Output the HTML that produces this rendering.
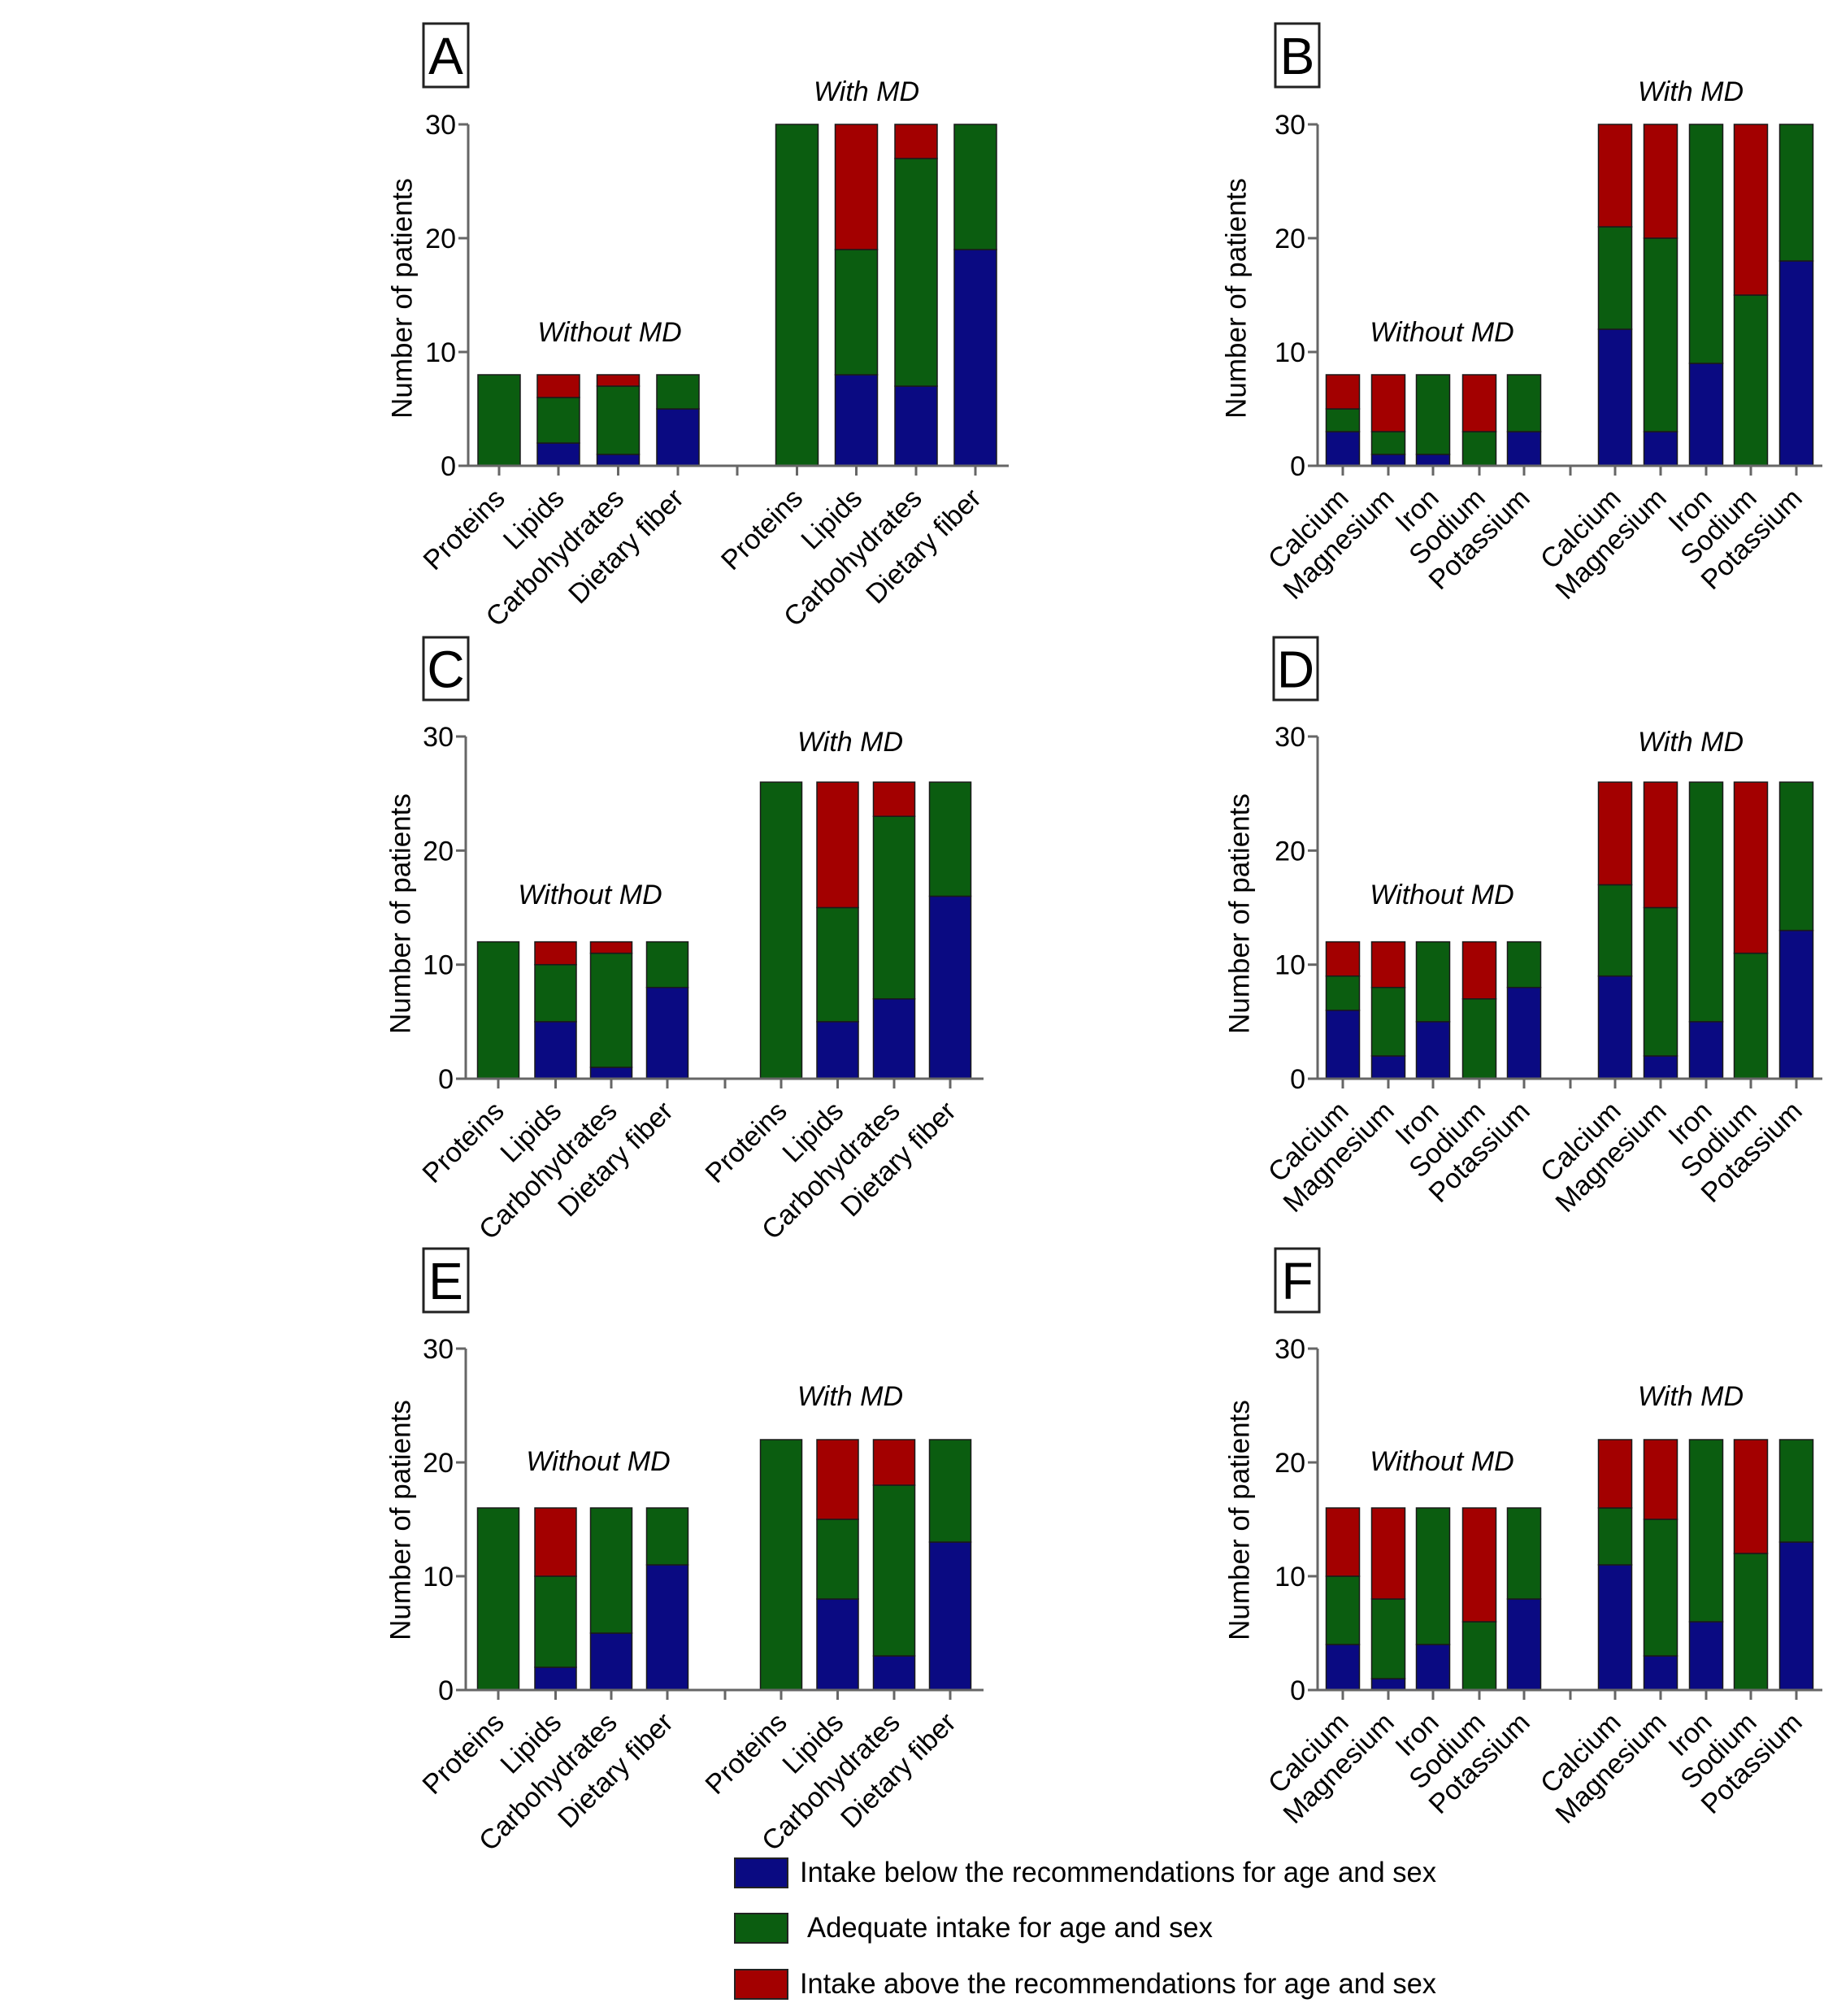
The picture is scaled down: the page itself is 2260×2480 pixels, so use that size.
<!DOCTYPE html>
<html><head><meta charset="utf-8"><style>
html,body{margin:0;padding:0;background:#fff}
svg{display:block;font-family:"Liberation Sans",Arial,sans-serif}
</style></head><body>
<svg id="fig" width="2260" height="2480" viewBox="0 0 2260 2480" xmlns="http://www.w3.org/2000/svg"></svg>
<script>
// ---- data ----
const macroCats = ["Proteins","Lipids","Carbohydrates","Dietary fiber"];
const mineralCats = ["Calcium","Magnesium","Iron","Sodium","Potassium"];
const yTicks = [0,10,20,30];
// Panel A
const aBelow = [0,2,1,5, 0,8,7,19];
const aAdequate = [8,4,6,3, 30,11,20,11];
const aAbove = [0,2,1,0, 0,11,3,0];
// Panel B
const bBelow = [3,1,1,0,3, 12,3,9,0,18];
const bAdequate = [2,2,7,3,5, 9,17,21,15,12];
const bAbove = [3,5,0,5,0, 9,10,0,15,0];
// Panel C
const cBelow = [0,5,1,8, 0,5,7,16];
const cAdequate = [12,5,10,4, 26,10,16,10];
const cAbove = [0,2,1,0, 0,11,3,0];
// Panel D
const dBelow = [6,2,5,0,8, 9,2,5,0,13];
const dAdequate = [3,6,7,7,4, 8,13,21,11,13];
const dAbove = [3,4,0,5,0, 9,11,0,15,0];
// Panel E
const eBelow = [0,2,5,11, 0,8,3,13];
const eAdequate = [16,8,11,5, 22,7,15,9];
const eAbove = [0,6,0,0, 0,7,4,0];
// Panel F
const fBelow = [4,1,4,0,8, 11,3,6,0,13];
const fAdequate = [6,7,12,6,8, 5,12,16,12,9];
const fAbove = [6,8,0,10,0, 6,7,0,10,0];

const COLORS = ["#0a0a82","#0b5d10","#a30000"];
const NS = "http://www.w3.org/2000/svg";
const svg = document.getElementById("fig");
function mk(tag, attrs, parent, text){
  const e = document.createElementNS(NS, tag);
  for (const k in attrs) e.setAttribute(k, attrs[k]);
  if (text !== undefined) e.textContent = text;
  (parent||svg).appendChild(e);
  return e;
}

const panels = [
  {id:"a", letter:"A", cats:macroCats, below:aBelow, adequate:aAdequate, above:aAbove,
   ax:576, axEnd:1241, y30:153, y0:573, xs:[614,687,760.5,834,980.5,1053.5,1127,1200], mid:907, bw:52,
   box:[521,29,55,78], withX:1066, withY:124, woX:750, woY:420, titleX:495, titleY:367},
  {id:"b", letter:"B", cats:mineralCats, below:bBelow, adequate:bAdequate, above:bAbove,
   ax:1621, axEnd:2242, y30:153, y0:573, xs:[1652,1708,1763,1820,1875,1987,2043,2099,2154,2210], mid:1932, bw:41,
   box:[1569,29,54,78], withX:2080, withY:124, woX:1774, woY:420, titleX:1521, titleY:367},
  {id:"c", letter:"C", cats:macroCats, below:cBelow, adequate:cAdequate, above:cAbove,
   ax:573, axEnd:1210, y30:906, y0:1327, xs:[613,683.5,752,821,961,1030.5,1100,1169], mid:892, bw:51,
   box:[521,784,55,77], withX:1046, withY:924, woX:726, woY:1112, titleX:493, titleY:1124},
  {id:"d", letter:"D", cats:mineralCats, below:dBelow, adequate:dAdequate, above:dAbove,
   ax:1621, axEnd:2242, y30:906, y0:1327, xs:[1652,1708,1763,1820,1875,1987,2043,2099,2154,2210], mid:1932, bw:41,
   box:[1567,784,54,77], withX:2080, withY:924, woX:1774, woY:1112, titleX:1525, titleY:1124},
  {id:"e", letter:"E", cats:macroCats, below:eBelow, adequate:eAdequate, above:eAbove,
   ax:573, axEnd:1210, y30:1659, y0:2079, xs:[613,683.5,752,821,961,1030.5,1100,1169], mid:892, bw:51,
   box:[521,1536,55,78], withX:1046, withY:1729, woX:736, woY:1809, titleX:493, titleY:1870},
  {id:"f", letter:"F", cats:mineralCats, below:fBelow, adequate:fAdequate, above:fAbove,
   ax:1621, axEnd:2242, y30:1659, y0:2079, xs:[1652,1708,1763,1820,1875,1987,2043,2099,2154,2210], mid:1932, bw:41,
   box:[1569,1536,54,78], withX:2080, withY:1729, woX:1774, woY:1809, titleX:1525, titleY:1870}
];

panels.forEach(p => {
  const g = mk("g", {});
  
  
  const yScale = v => p.y0 - (p.y0 - p.y30) * v / 30;

  const bx = mk("rect", {x:p.box[0], y:p.box[1], width:p.box[2], height:p.box[3], fill:"#fff", stroke:"#222", "stroke-width":3}, g);
  
  
  const lt = mk("text", {x:p.box[0]+p.box[2]/2, y:p.box[1]+p.box[3]/2+23, "text-anchor":"middle", "font-size":64, fill:"#000"}, g, p.letter);
  
  

  const n = p.cats.length;
  p.xs.forEach((cx, i) => {
    const vals = [p.below[i], p.adequate[i], p.above[i]];
    let acc = 0;
    vals.forEach((v, s) => {
      if (v <= 0) return;
      const yt = yScale(acc + v), yb = yScale(acc);
      const r = mk("rect", {x:cx - p.bw/2, y:yt, width:p.bw, height:yb - yt, fill:COLORS[s], stroke:"#1a1a1a", "stroke-width":1.5}, g);
      
      
      acc += v;
    });
    mk("line", {x1:cx, x2:cx, y1:p.y0, y2:p.y0+12, stroke:"#666", "stroke-width":3}, g);
    const lx = cx + 9, ly = p.y0 + 42;
    const t = mk("text", {x:lx, y:ly, "text-anchor":"end", "font-size":34, fill:"#000", transform:`rotate(-45 ${lx} ${ly})`}, g, p.cats[i % n]);
    
    
  });
  mk("line", {x1:p.mid, x2:p.mid, y1:p.y0, y2:p.y0+12, stroke:"#666", "stroke-width":3}, g);

  const ya = mk("line", {x1:p.ax, x2:p.ax, y1:p.y30, y2:p.y0, stroke:"#666", "stroke-width":3}, g);
  
  
  const xa = mk("line", {x1:p.ax-12, x2:p.axEnd, y1:p.y0, y2:p.y0, stroke:"#666", "stroke-width":3}, g);
  
  
  yTicks.forEach(v => {
    const y = yScale(v);
    mk("line", {x1:p.ax-12, x2:p.ax, y1:y, y2:y, stroke:"#666", "stroke-width":3}, g);
    const tl = mk("text", {x:p.ax-15, y:y+12, "text-anchor":"end", "font-size":34, fill:"#000"}, g, String(v));
    
    
  });
  const yt = mk("text", {x:p.titleX, y:p.titleY, "text-anchor":"middle", "dominant-baseline":"central", "font-size":35, fill:"#000", transform:`rotate(-90 ${p.titleX} ${p.titleY})`}, g, "Number of patients");
  
  

  const w1 = mk("text", {x:p.withX, y:p.withY, "text-anchor":"middle", "font-size":34, "font-style":"italic", fill:"#000"}, g, "With MD");
  
  
  const w2 = mk("text", {x:p.woX, y:p.woY, "text-anchor":"middle", "font-size":34, "font-style":"italic", fill:"#000"}, g, "Without MD");
  
  
});

const legendLabels = ["Intake below the recommendations for age and sex","Adequate intake for age and sex","Intake above the recommendations for age and sex"];
const legG = mk("g", {});


const legY = [2286, 2354, 2423];
const legTX = [984, 993, 984];
const legTL = [783, 499, 783];
legendLabels.forEach((lab, i) => {
  const sw = mk("rect", {x:904, y:legY[i], width:65, height:36, fill:COLORS[i], stroke:"#222", "stroke-width":2}, legG);
  
  
  const t = mk("text", {x:legTX[i], y:legY[i]+29, "font-size":35, fill:"#000", textLength:legTL[i], lengthAdjust:"spacingAndGlyphs"}, legG, lab);
  
  
});
</script>
</body></html>
